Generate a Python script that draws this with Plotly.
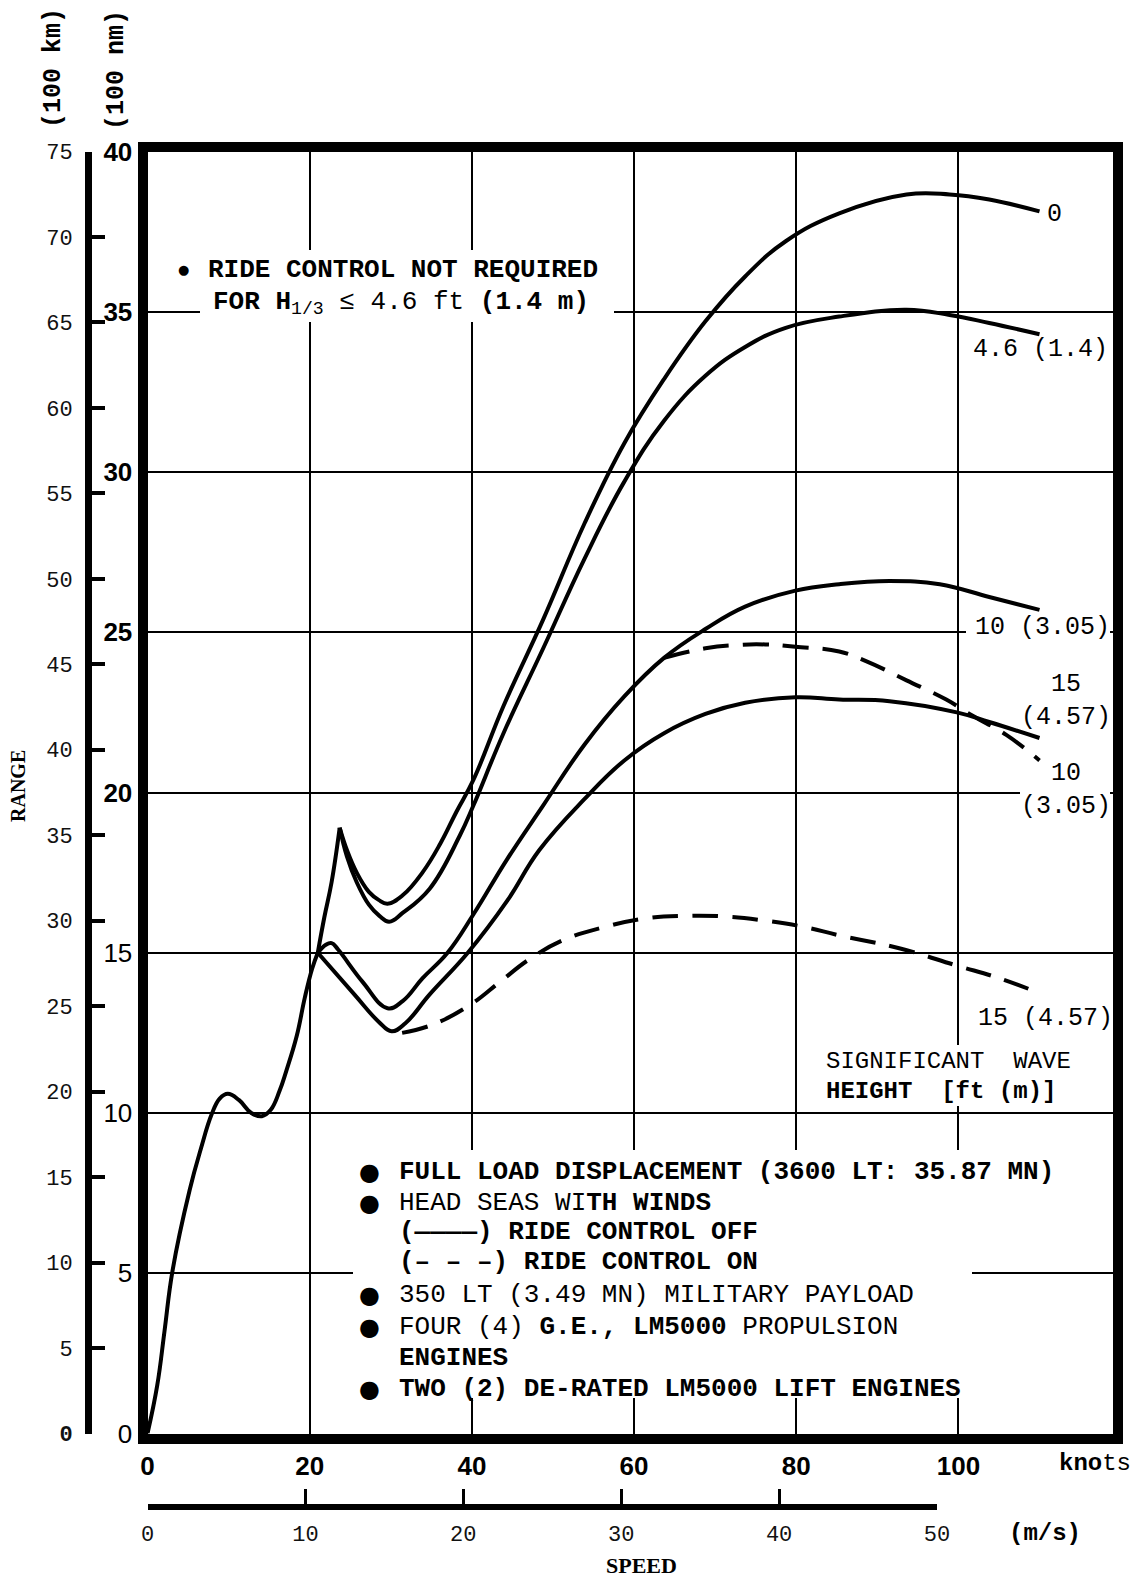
import plotly.graph_objects as go

W, H = 1143, 1580

# ---------------- data (speed in knots, range in 100 nm) ----------------
base_knots = [0.0, 1.2, 2.1, 3.1, 5.2, 6.6, 7.9, 8.9, 9.9, 11.3, 12.8, 14.1, 15.2, 16.3, 17.1, 18.4, 19.4, 20.3, 21.0]
base_range = [0.0, 1.5, 3.2, 5.1, 7.6, 8.9, 9.95, 10.45, 10.6, 10.4, 10.0, 9.9, 10.1, 10.7, 11.3, 12.4, 13.6, 14.5, 15.0]

spike_knots = [21.0, 21.8, 22.7, 23.7]
spike_range = [15.0, 16.1, 17.2, 18.9]

h0_knots = [23.7, 24.6, 25.8, 27.3, 28.5, 29.6, 31.5, 33.9, 36.1, 38.1, 40.2, 43.9, 48.8, 53.9, 58.8, 63.7, 68.8, 73.7, 78.7, 85.3, 93.6, 98.9, 103.8, 110.0]
h0_range = [18.9, 18.2, 17.5, 16.9, 16.65, 16.53, 16.8, 17.5, 18.4, 19.4, 20.4, 22.7, 25.4, 28.4, 30.9, 32.9, 34.7, 36.1, 37.2, 38.07, 38.66, 38.66, 38.5, 38.13]

h46_knots = [23.7, 24.6, 25.8, 27.3, 28.6, 29.8, 31.5, 34.8, 38.5, 40.2, 43.9, 48.8, 53.9, 58.8, 63.7, 68.8, 73.7, 78.7, 85.3, 93.6, 98.9, 103.8, 110.0]
h46_range = [18.9, 18.0, 17.2, 16.5, 16.15, 15.97, 16.25, 17.0, 18.65, 19.6, 21.85, 24.5, 27.3, 29.7, 31.6, 33.0, 33.9, 34.5, 34.85, 35.06, 34.9, 34.65, 34.3]

h10_knots = [21.0, 22.0, 22.7, 23.5, 26.5, 29.6, 31.5, 33.9, 37.0, 40.2, 44.3, 48.8, 53.9, 58.8, 63.7, 68.8, 73.7, 79.9, 85.3, 91.5, 97.7, 103.8, 110.0]
h10_range = [15.0, 15.25, 15.3, 15.1, 14.1, 13.27, 13.5, 14.2, 15.0, 16.2, 17.9, 19.6, 21.5, 23.0, 24.2, 25.1, 25.8, 26.3, 26.5, 26.6, 26.5, 26.1, 25.7]

h15_knots = [21.0, 25.5, 28.5, 30.1, 31.8, 34.8, 39.5, 44.3, 48.3, 53.9, 58.8, 63.7, 68.8, 73.7, 79.9, 85.3, 91.5, 99.8, 103.8, 110.0]
h15_range = [15.0, 13.7, 12.85, 12.55, 12.8, 13.7, 15.0, 16.6, 18.2, 19.8, 21.0, 21.85, 22.45, 22.8, 22.97, 22.9, 22.85, 22.5, 22.2, 21.7]

h10rc_knots = [63.7, 68.8, 72.5, 76.2, 79.9, 85.3, 88.6, 93.6, 98.5, 101.7, 105.9, 110.0]
h10rc_range = [24.2, 24.5, 24.6, 24.62, 24.55, 24.4, 24.1, 23.5, 22.9, 22.4, 21.8, 21.0]

h15rc_knots = [31.4, 35.1, 39.7, 43.5, 47.1, 51.3, 56.3, 61.3, 66.2, 71.3, 76.2, 81.1, 85.3, 92.7, 99.8, 105.1, 110.0]
h15rc_range = [12.5, 12.75, 13.36, 14.1, 14.8, 15.4, 15.8, 16.07, 16.15, 16.13, 16.0, 15.8, 15.54, 15.14, 14.6, 14.2, 13.74]

knot_ticks = [0, 20, 40, 60, 80, 100]
ms_ticks = [0, 10, 20, 30, 40, 50]
nm_ticks = [0, 5, 10, 15, 20, 25, 30, 35, 40]
nm_ticktext = ["0", "5", "10", "15", "<b>20</b>", "<b>25</b>", "<b>30</b>", "<b>35</b>", "<b>40</b>"]
km_ticks = list(range(0, 80, 5))
km_ticktext = ["<b>0</b>"] + [str(v) for v in km_ticks[1:]]

# ---------------- helpers ----------------
def px(x):
    return x / W

def py(y):
    return 1 - y / H

MONO = "Liberation Mono, Courier New, monospace"
SANS = "Liberation Sans, Arial, sans-serif"
SERIF = "Liberation Serif, Times New Roman, serif"

fig = go.Figure()

solid = dict(color="black", width=4, shape="spline", smoothing=1.2)
dashed = dict(color="black", width=4, shape="spline", smoothing=1.2, dash="26px,14px")

for xs, ys, ln in [
    (base_knots, base_range, solid),
    (spike_knots, spike_range, solid),
    (h0_knots, h0_range, solid),
    (h46_knots, h46_range, solid),
    (h10_knots, h10_range, solid),
    (h15_knots, h15_range, solid),
    (h10rc_knots, h10rc_range, dashed),
    (h15rc_knots, h15rc_range, dashed),
]:
    fig.add_trace(go.Scatter(x=xs, y=ys, mode="lines", line=ln,
                             showlegend=False, hoverinfo="skip"))

# carriers for the secondary axes
fig.add_trace(go.Scatter(x=[None], y=[None], xaxis="x", yaxis="y2", showlegend=False, hoverinfo="skip"))
fig.add_trace(go.Scatter(x=[None], y=[None], xaxis="x2", yaxis="y3", showlegend=False, hoverinfo="skip"))

X0, X1 = 147.5, 1112.5
Y0, Y1 = 151.5, 1433.5

fig.update_layout(
    width=W, height=H,
    margin=dict(l=0, r=0, t=0, b=0, pad=0, autoexpand=False),
    paper_bgcolor="white", plot_bgcolor="white",
    showlegend=False,
    xaxis=dict(domain=[px(X0), px(X1)], range=[0, 119.0], anchor="y",
               tickvals=knot_ticks, ticktext=[f"<b>{v}</b>" for v in knot_ticks],
               showgrid=True, gridcolor="black", gridwidth=2,
               showline=True, linecolor="black", linewidth=10, mirror=True,
               ticks="", zeroline=False,
               tickfont=dict(family=SANS, size=26, color="black"),
               ticklabelstandoff=0, fixedrange=True, automargin=False),
    yaxis=dict(domain=[py(Y1), py(Y0)], range=[0, 40], anchor="x",
               tickvals=nm_ticks, ticktext=nm_ticktext,
               showgrid=True, gridcolor="black", gridwidth=2,
               showline=True, linecolor="black", linewidth=10, mirror=True,
               ticks="", zeroline=False,
               tickfont=dict(family=SANS, size=26, color="black"),
               ticklabelstandoff=0, fixedrange=True, automargin=False),
    yaxis2=dict(overlaying="y", anchor="free", position=px(88), side="left",
                range=[0, 75], tickvals=km_ticks, ticktext=km_ticktext,
                ticks="inside", ticklen=13, tickwidth=4, tickcolor="black",
                showline=True, linecolor="black", linewidth=7,
                showgrid=False, zeroline=False,
                tickfont=dict(family=MONO, size=22, color="#111"),
                ticklabelstandoff=8, fixedrange=True, automargin=False),
    yaxis3=dict(domain=[py(1504), py(1494)], range=[0, 1], visible=False,
                fixedrange=True, anchor="x2"),
    xaxis2=dict(domain=[px(X0), px(937)], anchor="y3", side="bottom",
                range=[0, 50], tickvals=ms_ticks,
                ticks="inside", ticklen=15, tickwidth=3, tickcolor="black",
                showline=True, linecolor="black", linewidth=6,
                showgrid=False, zeroline=False,
                tickfont=dict(family=MONO, size=22, color="#111"),
                ticklabelstandoff=5, fixedrange=True, automargin=False),
)

# white masks where the printed text interrupts the grid
masks = [
    (200, 250, 614, 322),
    (966, 614, 1110, 642),
    (1020, 786, 1110, 802),
    (815, 1045, 1080, 1106),
    (353, 1150, 972, 1398),
]
for x0, y0, x1, y1 in masks:
    fig.add_shape(type="rect", xref="paper", yref="paper",
                  x0=px(x0), x1=px(x1), y0=py(y1), y1=py(y0),
                  fillcolor="white", line=dict(width=0), layer="above")

def txt(x, y, s, size=25, family=MONO, xanchor="left", yanchor="middle", angle=0, color="black"):
    fig.add_annotation(x=px(x), y=py(y), xref="paper", yref="paper", text=s,
                       showarrow=False, xanchor=xanchor, yanchor=yanchor,
                       textangle=angle, font=dict(family=family, size=size, color=color),
                       borderpad=0)

# axis titles
txt(53, 68, "<b>(100 km)</b>", size=25, angle=-90, xanchor="center")
txt(116, 70, "<b>(100 nm)</b>", size=25, angle=-90, xanchor="center")
txt(18, 786, "<b>RANGE</b>", size=20, family=SERIF, angle=-90, xanchor="center")
txt(1058, 1463, "<b>kno</b>ts", size=24)
txt(1045, 1533, "<b>(m/s)</b>", size=24, xanchor="center")
txt(641, 1565, "<b>SPEED</b>", size=22, family=SERIF, xanchor="center")

# top-left note
txt(183, 269, "●", size=13, family="DejaVu Sans", xanchor="center")
txt(207, 270, "<b>RIDE CONTROL NOT REQUIRED</b>", size=26)
txt(212, 303, "<b>FOR H</b><sub>1/3</sub> ≤ 4.6 ft <b>(1.4 m)</b>", size=26)

# curve labels
txt(1046, 214, "0", size=25)
txt(972, 350, "4.6 (1.4)", size=25)
txt(974, 627, "10 (3.05)", size=25)
txt(1066, 701, "15<br>(4.57)", size=25, xanchor="center")
txt(1066, 790, "10<br>(3.05)", size=25, xanchor="center")
txt(977, 1018, "15 (4.57)", size=25)
txt(825, 1061, "SIGNIFICANT\u00a0\u00a0WAVE", size=24)
txt(825, 1091, "<b>HEIGHT\u00a0\u00a0[ft (m)]</b>", size=24)

# legend block
bul_y = [1172, 1203, 1295, 1327, 1389]
for yy in bul_y:
    txt(369, yy, "●", size=24, family="DejaVu Sans", xanchor="center")
lines = [
    (1172, "<b>FULL LOAD DISPLACEMENT (3600 LT: 35.87 MN)</b>"),
    (1203, "HEAD SEAS WI<b>TH WINDS</b>"),
    (1232, "<b>(————) RIDE CONTROL OFF</b>"),
    (1262, "<b>(– – –) RIDE CONTROL ON</b>"),
    (1295, "350 LT (3.49 MN) MILITARY PAYLOAD"),
    (1327, "FOUR (4) <b>G.E., LM5000</b> PROPULSION"),
    (1358, "<b>ENGINES</b>"),
    (1389, "<b>TWO (2) DE-RATED LM5000 LIFT ENGINES</b>"),
]
for yy, s in lines:
    txt(398, yy, s, size=26)

fig.write_html("out.html")
